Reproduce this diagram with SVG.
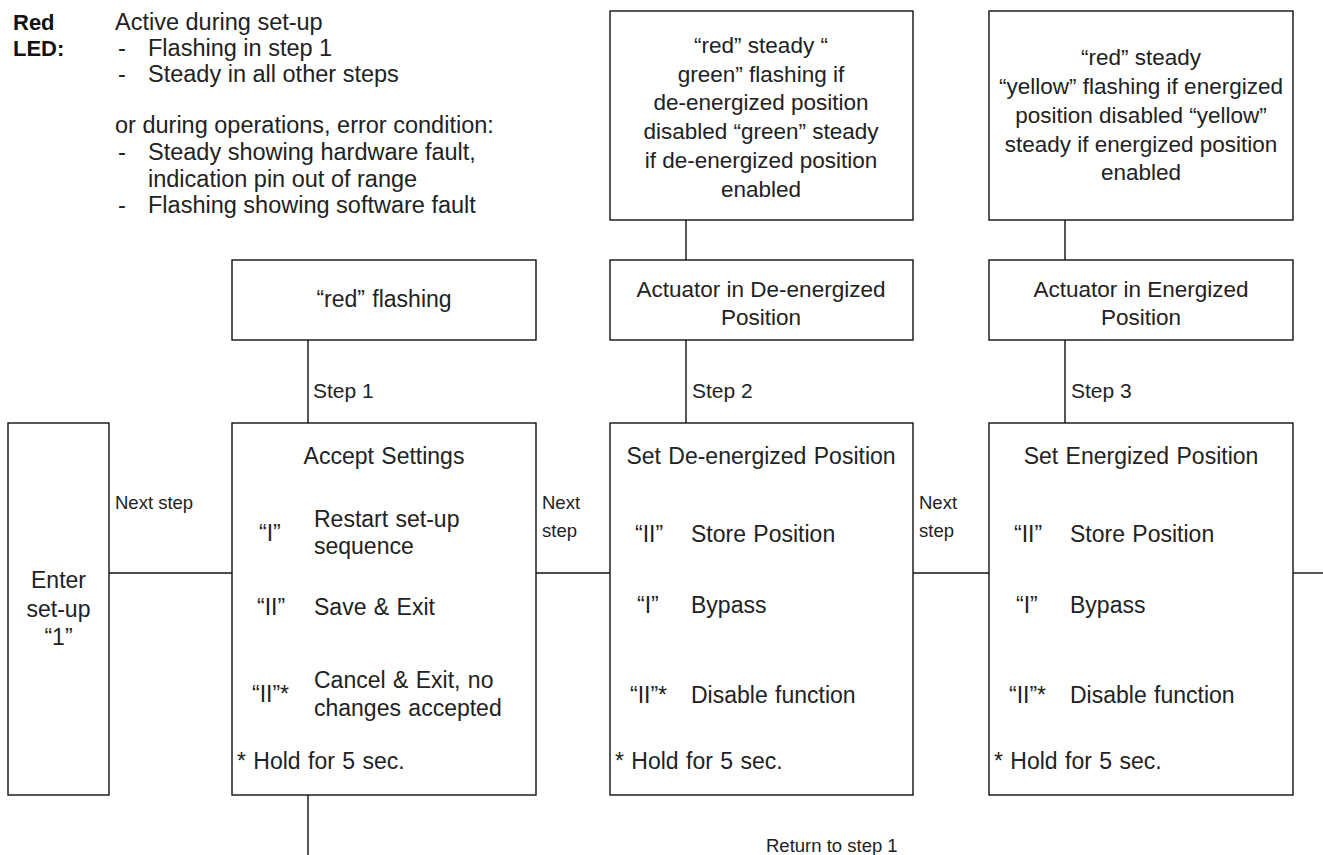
<svg xmlns="http://www.w3.org/2000/svg" width="1323" height="855" viewBox="0 0 1323 855">
<style>
  .box { fill: #ffffff; stroke: #111111; stroke-width: 1.4; }
  .ln { fill: none; stroke: #111111; stroke-width: 1.4; }
  text { font-family: "Liberation Sans", Arial, sans-serif; fill: #222222; }
  .t { font-size: 23px; word-spacing: 1px; }
  .n { font-size: 22.5px; }
  .lg { font-size: 23.5px; }
  .c { text-anchor: middle; }
  .s { font-size: 21px; }
  .sm { font-size: 18.5px; }
  .b { font-weight: bold; font-size: 22px; fill: #111111; }
</style>
<rect width="1323" height="855" fill="#ffffff"/>

<g id="legend">
  <text class="b" x="13" y="30">Red</text>
  <text class="b" x="13" y="56">LED:</text>
  <text class="lg" x="115" y="30">Active during set-up</text>
  <text class="lg" x="118" y="56">-</text>
  <text class="lg" x="148" y="56">Flashing in step 1</text>
  <text class="lg" x="118" y="82">-</text>
  <text class="lg" x="148" y="82">Steady in all other steps</text>
  <text class="lg" x="115" y="133">or during operations, error condition:</text>
  <text class="lg" x="118" y="160">-</text>
  <text class="lg" x="148" y="160">Steady showing hardware fault,</text>
  <text class="lg" x="148" y="187">indication pin out of range</text>
  <text class="lg" x="118" y="213">-</text>
  <text class="lg" x="148" y="213">Flashing showing software fault</text>
</g>

<g id="connectors">
  <line class="ln" x1="109" y1="573" x2="232" y2="573"/>
  <line class="ln" x1="536" y1="573" x2="610" y2="573"/>
  <line class="ln" x1="913" y1="573" x2="989" y2="573"/>
  <line class="ln" x1="1293" y1="573" x2="1323" y2="573"/>
  <line class="ln" x1="308" y1="340" x2="308" y2="423"/>
  <line class="ln" x1="308" y1="795" x2="308" y2="855"/>
  <line class="ln" x1="686" y1="220" x2="686" y2="260"/>
  <line class="ln" x1="686" y1="340" x2="686" y2="423"/>
  <line class="ln" x1="1065" y1="220" x2="1065" y2="260"/>
  <line class="ln" x1="1065" y1="340" x2="1065" y2="423"/>
  <text class="sm" x="115" y="509">Next step</text>
  <text class="sm" x="542" y="509">Next</text>
  <text class="sm" x="542" y="537">step</text>
  <text class="sm" x="919" y="509">Next</text>
  <text class="sm" x="919" y="537">step</text>
  <text class="s" x="313" y="398">Step 1</text>
  <text class="s" x="692" y="398">Step 2</text>
  <text class="s" x="1071" y="398">Step 3</text>
  <text class="sm" x="766" y="852">Return to step 1</text>
</g>

<g id="note-deenergized">
  <rect class="box" x="610" y="11" width="303" height="209"/>
  <text class="n c" x="761" y="53">“red” steady “</text>
  <text class="n c" x="761" y="82">green” flashing if</text>
  <text class="n c" x="761" y="110">de-energized position</text>
  <text class="n c" x="761" y="139">disabled “green” steady</text>
  <text class="n c" x="761" y="168">if de-energized position</text>
  <text class="n c" x="761" y="197">enabled</text>
</g>

<g id="note-energized">
  <rect class="box" x="989" y="11" width="304" height="209"/>
  <text class="n c" x="1141" y="65">“red” steady</text>
  <text class="n c" x="1141" y="94">“yellow” flashing if energized</text>
  <text class="n c" x="1141" y="123">position disabled “yellow”</text>
  <text class="n c" x="1141" y="152">steady if energized position</text>
  <text class="n c" x="1141" y="180">enabled</text>
</g>

<g id="red-flashing">
  <rect class="box" x="232" y="260" width="304" height="80"/>
  <text class="t c" x="384" y="307">“red” flashing</text>
</g>

<g id="actuator-deenergized">
  <rect class="box" x="610" y="260" width="303" height="80"/>
  <text class="n c" x="761" y="297">Actuator in De-energized</text>
  <text class="n c" x="761" y="325">Position</text>
</g>

<g id="actuator-energized">
  <rect class="box" x="989" y="260" width="304" height="80"/>
  <text class="n c" x="1141" y="297">Actuator in Energized</text>
  <text class="n c" x="1141" y="325">Position</text>
</g>

<g id="enter-setup">
  <rect class="box" x="8" y="423" width="101" height="372"/>
  <text class="t c" x="58.5" y="588">Enter</text>
  <text class="t c" x="58.5" y="617">set-up</text>
  <text class="t c" x="58.5" y="645">“1”</text>
</g>

<g id="accept-settings">
  <rect class="box" x="232" y="423" width="304" height="372"/>
  <text class="t c" x="384" y="464">Accept Settings</text>
  <text class="t" x="259" y="541">“I”</text>
  <text class="t" x="314" y="527">Restart set-up</text>
  <text class="t" x="314" y="554">sequence</text>
  <text class="t" x="257" y="615">“II”</text>
  <text class="t" x="314" y="615">Save &amp; Exit</text>
  <text class="t" x="252" y="702">“II”*</text>
  <text class="t" x="314" y="688">Cancel &amp; Exit, no</text>
  <text class="t" x="314" y="716">changes accepted</text>
  <text class="t" x="237" y="769">* Hold for 5 sec.</text>
</g>

<g id="set-deenergized">
  <rect class="box" x="610" y="423" width="303" height="372"/>
  <text class="t c" x="761" y="464">Set De-energized Position</text>
  <text class="t" x="635" y="542">“II”</text>
  <text class="t" x="691" y="542">Store Position</text>
  <text class="t" x="637" y="613">“I”</text>
  <text class="t" x="691" y="613">Bypass</text>
  <text class="t" x="630" y="703">“II”*</text>
  <text class="t" x="691" y="703">Disable function</text>
  <text class="t" x="615" y="769">* Hold for 5 sec.</text>
</g>

<g id="set-energized">
  <rect class="box" x="989" y="423" width="304" height="372"/>
  <text class="t c" x="1141" y="464">Set Energized Position</text>
  <text class="t" x="1014" y="542">“II”</text>
  <text class="t" x="1070" y="542">Store Position</text>
  <text class="t" x="1016" y="613">“I”</text>
  <text class="t" x="1070" y="613">Bypass</text>
  <text class="t" x="1009" y="703">“II”*</text>
  <text class="t" x="1070" y="703">Disable function</text>
  <text class="t" x="994" y="769">* Hold for 5 sec.</text>
</g>
</svg>
